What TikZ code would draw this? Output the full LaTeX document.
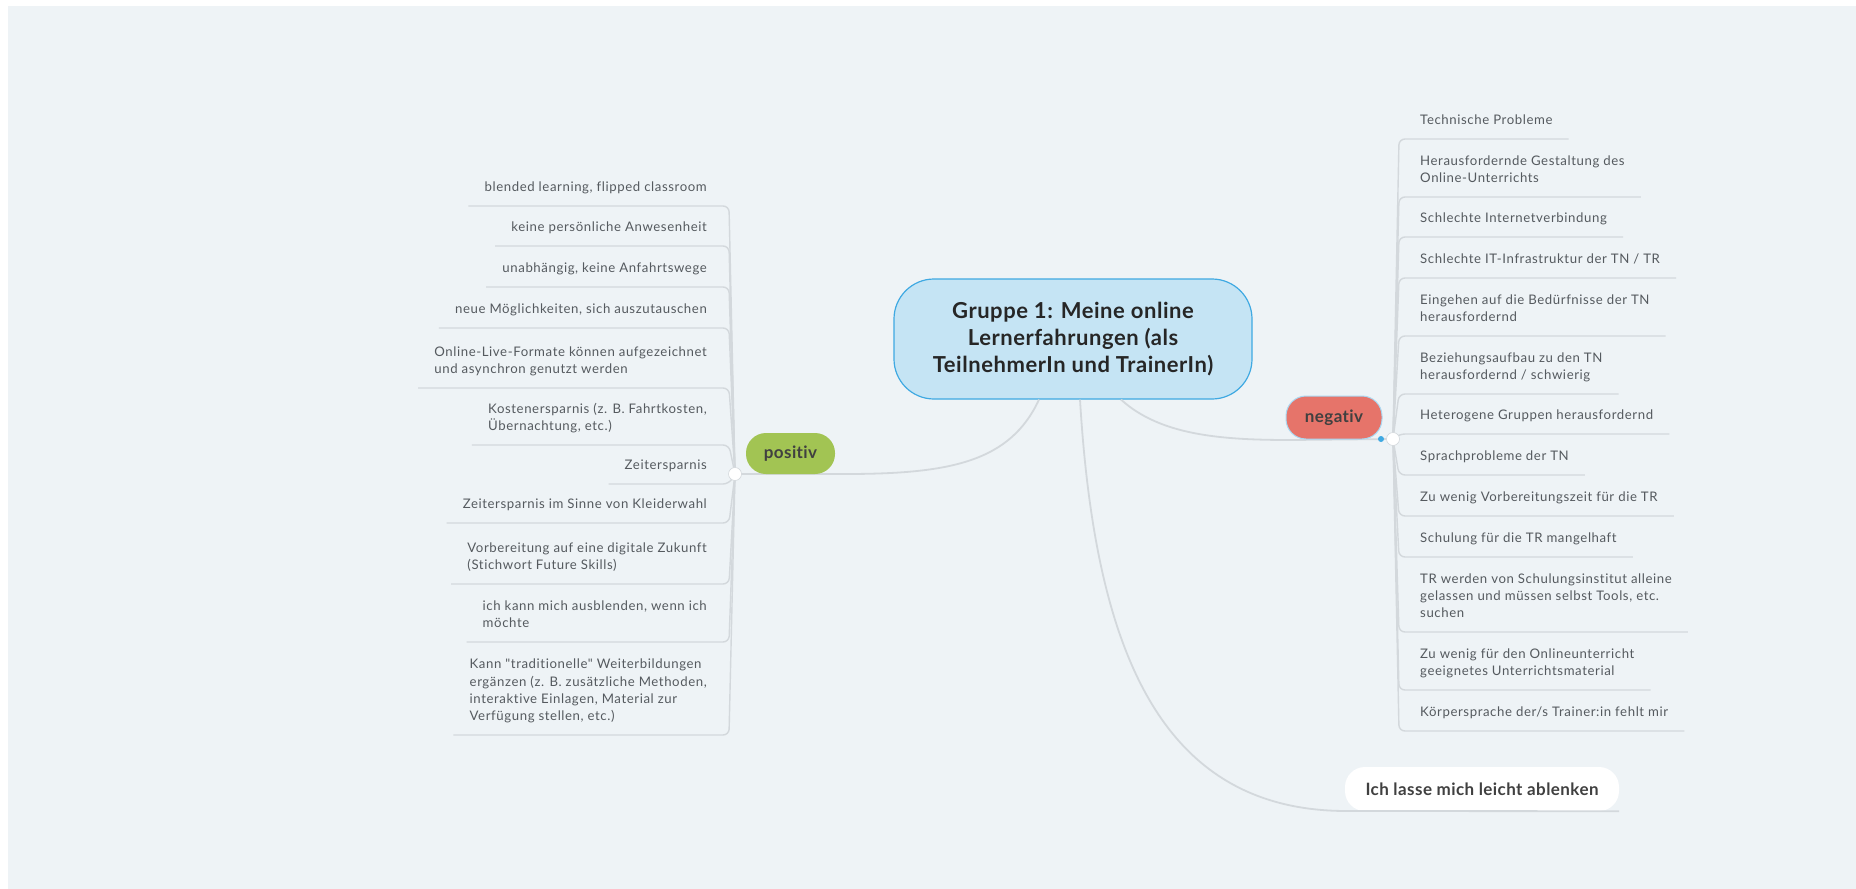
\documentclass[tikz,border=0pt]{standalone}
\usepackage{fontspec}
\setmainfont{Lato}
\newfontfamily\blattfont{Lato}[LetterSpace=4.5, Ligatures={TeXOff,NoCommon}]
\newfontfamily\kopffont{Lato}[LetterSpace=2.5, Ligatures=NoCommon]
\usepackage{tikz}
\usetikzlibrary{arrows.meta}
\definecolor{cfond}{HTML}{EEF3F6}
\definecolor{clien}{HTML}{D3D8DC}
\definecolor{ctexte}{HTML}{555A5F}
\definecolor{cbleu}{HTML}{C5E4F4}
\definecolor{cbord}{HTML}{3FA9E2}
\definecolor{cvert}{HTML}{A2C453}
\definecolor{crouge}{HTML}{E6746A}
\begin{document}
\begin{tikzpicture}[x=1pt, y=-1pt, >=Stealth,
  conn/.style={clien, line width=1.8pt},
  leaf/.style={text=ctexte, align=left, inner xsep=16pt, inner ysep=9pt,
    font=\blattfont\fontsize{13.2}{17.3}\selectfont},
  pill/.style={rounded corners=20pt, text=black!75, font=\kopffont\fontsize{17}{20}\selectfont\bfseries},
  dot/.style={circle, fill=white, draw=clien, line width=0.6pt, minimum size=13pt, inner sep=0pt}]
\useasboundingbox (0,0) rectangle (1856,889);
\fill[white] (0,0) rectangle (1856,889);
\fill[cfond] (8,6) rectangle (1856,889);
% central topic
\node[draw=cbord, fill=cbleu, line width=1.2pt, rounded corners=40pt, minimum width=358pt,
  minimum height=120pt, align=center, text=black!85,
  font=\kopffont\fontsize{22}{27}\selectfont\bfseries] (cent) at (1073,339)
  {Gruppe 1: Meine online\\Lernerfahrungen (als\\TeilnehmerIn und TrainerIn)};
\coordinate (pdot) at (735,474);
\coordinate (ndot) at (1393,439);
% main branches
\draw[conn] ([xshift=-34pt]cent.south) .. controls (1010,462) and (950,474) .. (845,474) -- (pdot);
\draw[conn] ([xshift=48pt]cent.south) .. controls (1160,435) and (1220,440) .. (1290,440) -- (ndot);
\node[pill, fill=white, minimum width=274pt, minimum height=44pt] (ablenk) at (1482,789)
  {Ich lasse mich leicht ablenken};
\draw[conn] ([xshift=7pt]cent.south) .. controls (1095,650) and (1160,810) .. (1345,811) -- (ablenk.south east);
% positiv
\foreach \n/\y/\txt in {1/206/{blended learning, flipped classroom},
  2/246/{keine persönliche Anwesenheit},
  3/287/{unabhängig, keine Anfahrtswege},
  4/328/{neue Möglichkeiten, sich auszutauschen},
  5/388/{Online-Live-Formate können aufgezeichnet\\und asynchron genutzt werden},
  6/445/{Kostenersparnis (z. B. Fahrtkosten,\\Übernachtung, etc.)},
  7/484/{Zeitersparnis},
  8/523/{Zeitersparnis im Sinne von Kleiderwahl},
  9/584/{Vorbereitung auf eine digitale Zukunft\\(Stichwort Future Skills)},
  10/642/{ich kann mich ausblenden, wenn ich\\möchte},
  11/735/{Kann "traditionelle" Weiterbildungen\\ergänzen (z. B. zusätzliche Methoden,\\interaktive Einlagen, Material zur\\Verfügung stellen, etc.)}}
  {\node[leaf, anchor=south east] (p\n) at (723,\y) {\txt\strut};
   \draw[conn, line width=1.4pt, rounded corners=6pt] (pdot) -- (729,\y) -- (p\n.south west);}
% negativ
\foreach \n/\y/\txt in {1/139/{Technische Probleme},
  2/197/{Herausfordernde Gestaltung des\\Online-Unterrichts},
  3/237/{Schlechte Internetverbindung},
  4/278/{Schlechte IT-Infrastruktur der TN / TR},
  5/336/{Eingehen auf die Bedürfnisse der TN\\herausfordernd},
  6/394/{Beziehungsaufbau zu den TN\\herausfordernd / schwierig},
  7/434/{Heterogene Gruppen herausfordernd},
  8/475/{Sprachprobleme der TN},
  9/516/{Zu wenig Vorbereitungszeit für die TR},
  10/557/{Schulung für die TR mangelhaft},
  11/632/{TR werden von Schulungsinstitut alleine\\gelassen und müssen selbst Tools, etc.\\suchen},
  12/690/{Zu wenig für den Onlineunterricht\\geeignetes Unterrichtsmaterial},
  13/731/{Körpersprache der/s Trainer:in fehlt mir}}
  {\node[leaf, anchor=south west] (n\n) at (1404,\y) {\txt\strut};
   \draw[conn, line width=1.4pt, rounded corners=6pt] (ndot) -- (1399,\y) -- (n\n.south east);}
\node[pill, fill=cvert, minimum width=89pt, minimum height=41pt] (pos) at (790.5,453.5) {positiv};
\node[pill, fill=crouge, draw=cbord!45, line width=1pt, minimum width=96pt, minimum height=43pt]
  (neg) at (1334,417.5) {negativ};
\fill[cbord] (1381,439) circle (3pt);
\node[dot] at (pdot) {};
\node[dot] at (ndot) {};
\end{tikzpicture}
\end{document}
